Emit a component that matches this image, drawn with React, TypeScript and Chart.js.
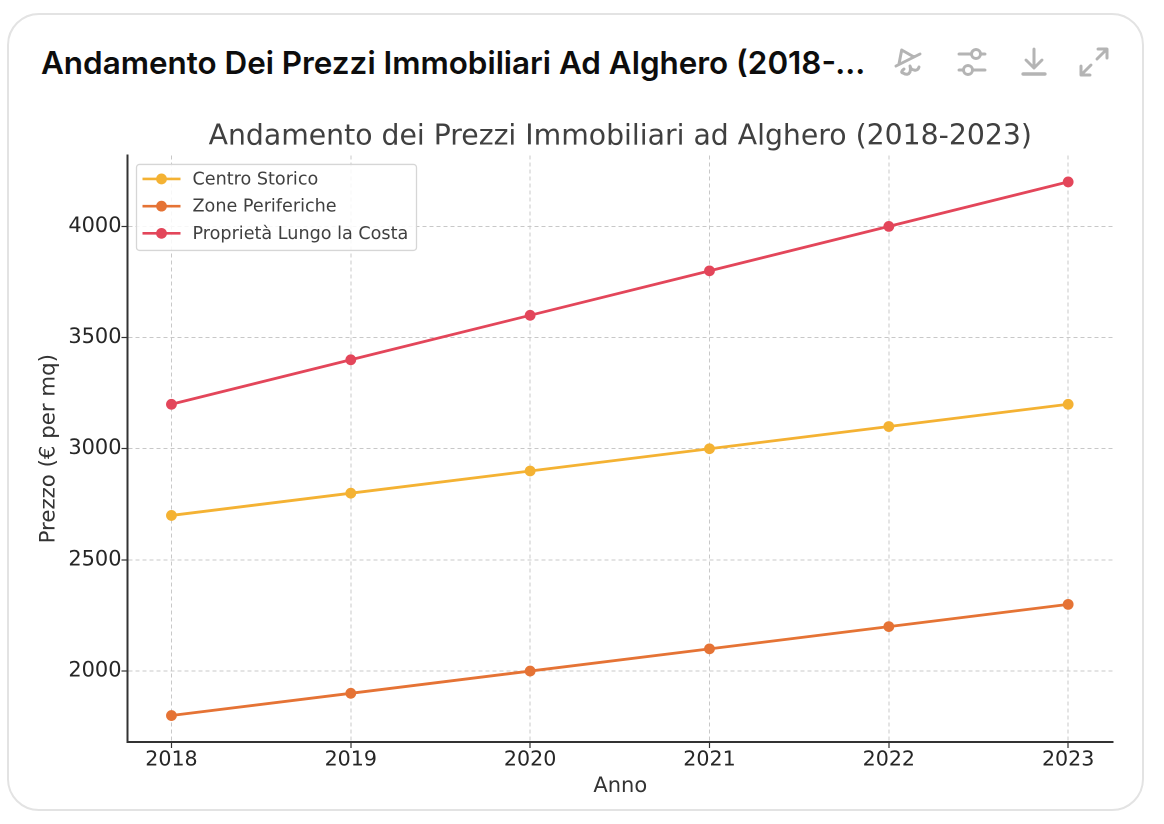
import React, { useEffect, useRef } from "react";
import { Chart, registerables } from "chart.js";

Chart.register(...registerables);

const years = [2018, 2019, 2020, 2021, 2022, 2023];
const centroStorico = [2700, 2800, 2900, 3000, 3100, 3200];
const zonePeriferiche = [1800, 1900, 2000, 2100, 2200, 2300];
const lungoCosta = [3200, 3400, 3600, 3800, 4000, 4200];
const yTicks = [2000, 2500, 3000, 3500, 4000];
const headerTitle = "Andamento Dei Prezzi Immobiliari Ad Alghero (2018-2023)";
const chartTitle = "Andamento dei Prezzi Immobiliari ad Alghero (2018-2023)";

const FONT = "'DejaVu Sans'";
const colors = ["#F4B233", "#E57335", "#E3465A"];

const legendPlugin = {
  id: "boxLegend",
  afterDatasetsDraw(chart: any) {
    const { ctx, chartArea } = chart;
    const x0 = chartArea.left + 9;
    const y0 = chartArea.top + 9;
    const w = 280;
    const h = 86;
    ctx.save();
    ctx.beginPath();
    ctx.roundRect(x0, y0, w, h, 3);
    ctx.fillStyle = "rgba(255,255,255,0.85)";
    ctx.fill();
    ctx.strokeStyle = "#d6d6d6";
    ctx.lineWidth = 1.3;
    ctx.stroke();
    ctx.font = `17.6px ${FONT}`;
    ctx.textBaseline = "middle";
    chart.data.datasets.forEach((ds: any, i: number) => {
      const y = y0 + 14.5 + i * 27.2;
      ctx.strokeStyle = ds.borderColor;
      ctx.lineWidth = 2.6;
      ctx.beginPath();
      ctx.moveTo(x0 + 6, y);
      ctx.lineTo(x0 + 44, y);
      ctx.stroke();
      ctx.fillStyle = ds.borderColor;
      ctx.beginPath();
      ctx.arc(x0 + 25, y, 5.4, 0, Math.PI * 2);
      ctx.fill();
      ctx.fillStyle = "#404040";
      ctx.fillText(ds.label, x0 + 56, y + 1);
    });
    ctx.restore();
  },
};

const Icon = ({ x, children }: { x: number; children: React.ReactNode }) => (
  <svg
    width="32"
    height="32"
    viewBox="0 0 32 32"
    fill="none"
    stroke="#b4b4b4"
    strokeWidth="3"
    strokeLinecap="round"
    strokeLinejoin="round"
    style={{ position: "absolute", left: x, top: 46 }}
  >
    {children}
  </svg>
);

export default function App() {
  const ref = useRef<HTMLCanvasElement>(null);

  useEffect(() => {
    const toPoints = (vals: number[]) => vals.map((y, i) => ({ x: years[i], y }));
    const series = [
      ["Centro Storico", centroStorico],
      ["Zone Periferiche", zonePeriferiche],
      ["Proprietà Lungo la Costa", lungoCosta],
    ] as [string, number[]][];
    const chart = new Chart(ref.current!, {
      type: "line",
      data: {
        datasets: series.map(([label, vals], i) => ({
          label,
          data: toPoints(vals),
          borderColor: colors[i],
          backgroundColor: colors[i],
          borderWidth: 2.8,
          pointRadius: 5.4,
          pointHoverRadius: 5.4,
          pointBorderWidth: 0,
          tension: 0,
        })),
      },
      options: {
        responsive: false,
        animation: false,
        devicePixelRatio: 2,
        layout: { padding: { top: 0, left: 0, right: 51, bottom: 24 } },
        plugins: {
          legend: { display: false },
          tooltip: { enabled: false },
          title: {
            display: true,
            text: chartTitle,
            fullSize: false,
            color: "#404040",
            font: { family: FONT, size: 28.3, weight: "normal" },
            padding: { top: 120, bottom: 1.5 },
          },
        },
        scales: {
          x: {
            type: "linear",
            min: 2017.755,
            max: 2023.25,
            afterBuildTicks: (s: any) => {
              s.ticks = years.map((value) => ({ value }));
            },
            afterFit: (s: any) => {
              s.height = 58;
            },
            grid: {
              color: "#c8c8c8",
              lineWidth: 1,
              borderDash: [4, 3],
              tickColor: "#333333",
              tickLength: 6,
              tickWidth: 1.2,
            },
            border: { color: "#333333", width: 2, dash: [4, 3] },
            ticks: {
              color: "#262626",
              font: { family: FONT, size: 20.6 },
              padding: 0,
              maxRotation: 0,
              autoSkip: false,
              callback: (v: any) => String(v),
            },
            title: {
              display: true,
              text: "Anno",
              color: "#333333",
              font: { family: FONT, size: 21 },
              padding: { top: 0, bottom: 1 },
            },
          },
          y: {
            min: 1681,
            max: 4319,
            afterBuildTicks: (s: any) => {
              s.ticks = yTicks.map((value) => ({ value }));
            },
            afterFit: (s: any) => {
              s.width = 127.5;
            },
            grid: {
              color: "#c8c8c8",
              lineWidth: 1,
              borderDash: [4, 3],
              tickColor: "#333333",
              tickLength: 6,
              tickWidth: 1.2,
            },
            border: { color: "#333333", width: 2, dash: [4, 3] },
            ticks: {
              color: "#262626",
              font: { family: FONT, size: 20.9 },
              padding: 0,
              callback: (v: any) => String(v),
            },
            title: {
              display: true,
              text: "Prezzo (€ per mq)",
              color: "#333333",
              font: { family: FONT, size: 21.3 },
              padding: { top: 36, bottom: 0 },
            },
          },
        },
      } as any,
      plugins: [legendPlugin],
    });
    return () => chart.destroy();
  }, []);

  return (
    <div style={{ position: "absolute", left: 0, top: 0, width: 1164, height: 824, background: "#ffffff", overflow: "hidden" }}>
      <div
        style={{
          position: "absolute",
          left: 7,
          top: 13,
          width: 1137,
          height: 798,
          border: "2px solid #e3e3e3",
          borderRadius: 32,
          boxSizing: "border-box",
          background: "#ffffff",
        }}
      />
      <div
        style={{
          position: "absolute",
          left: 41,
          top: 42,
          width: 826,
          height: 42,
          lineHeight: "42px",
          fontFamily: "Inter",
          fontWeight: 600,
          fontSize: 31.4,
          color: "#0d0d0d",
          whiteSpace: "nowrap",
          overflow: "hidden",
          textOverflow: "ellipsis",
        }}
      >
        {headerTitle}
      </div>
      <Icon x={893}>
        <path d="M8.7 4 L6 18 M8.7 4 L21 11 M3 20 L27 8 M11 23 q-4 3 -1 4 q5 3 7 -1 q1 -3 0 -6 q1 4 4 4 q4 1 5 -3" />
      </Icon>
      <Icon x={956}>
        <path d="M3 8 H15 M25 8 H29 M3 24 H7 M17 24 H29" />
        <circle cx="20" cy="8" r="4.5" />
        <circle cx="12" cy="24" r="4.5" />
      </Icon>
      <Icon x={1018}>
        <path d="M16 3 V21 M8 14 L16 22 L24 14" />
        <path d="M5 28 H27" strokeWidth="3.4" />
      </Icon>
      <Icon x={1078}>
        <path d="M19 13 L29 3 M20 3 H29 V12 M13 19 L3 29 M3 20 V29 H12" />
      </Icon>
      <canvas
        ref={ref}
        width={1164}
        height={824}
        style={{ position: "absolute", left: 0, top: 0, width: 1164, height: 824 }}
      />
    </div>
  );
}
